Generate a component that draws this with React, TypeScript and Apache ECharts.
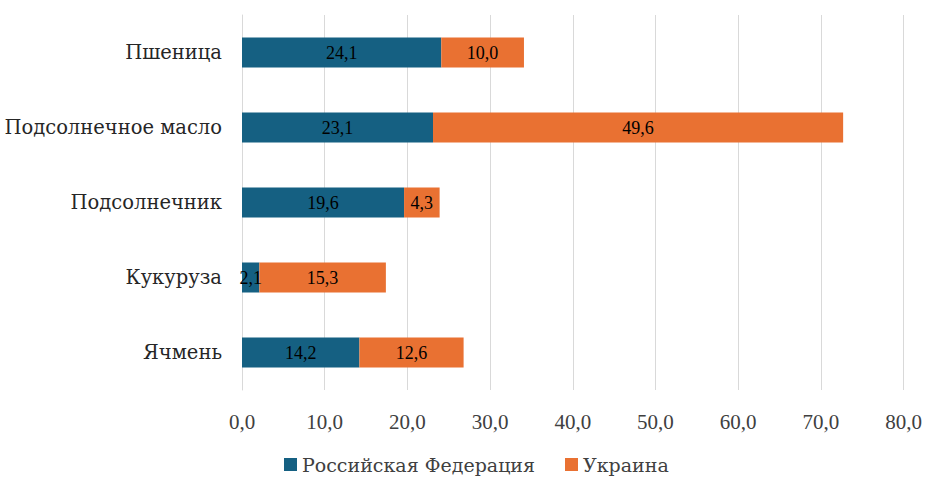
import React, { useEffect, useRef } from "react";
import * as echarts from "echarts";

const categories = ["Пшеница", "Подсолнечное масло", "Подсолнечник", "Кукуруза", "Ячмень"];
const russia = [24.1, 23.1, 19.6, 2.1, 14.2];
const ukraine = [10.0, 49.6, 4.3, 15.3, 12.6];
const seriesNames = ["Российская Федерация", "Украина"];

const FONT = "Times New Roman, Liberation Serif, DejaVu Serif, serif";
const CYR = "DejaVu Serif, serif";
const fmt = (v: number) => v.toFixed(1).replace(".", ",");

export default function App() {
  const ref = useRef<HTMLDivElement>(null);
  useEffect(() => {
    if (!ref.current) return;
    const chart = echarts.init(ref.current, undefined, { renderer: "svg" });
    chart.setOption({
      animation: false,
      backgroundColor: "#ffffff",
      textStyle: { fontFamily: FONT },
      grid: { left: 242, right: 23.5, top: 15, bottom: 87, containLabel: false },
      legend: {
        left: 279,
        top: 449,
        itemWidth: 13,
        itemHeight: 13,
        itemGap: 30,
        icon: "rect",
        textStyle: { fontFamily: CYR, fontSize: 19, lineHeight: 21, color: "#404040" },
        data: seriesNames,
      },
      xAxis: {
        type: "value",
        min: 0,
        max: 80,
        interval: 10,
        axisLine: { show: false },
        axisTick: { show: false },
        splitLine: { lineStyle: { color: "#d9d9d9", width: 1 } },
        axisLabel: {
          margin: 21,
          fontFamily: FONT,
          fontSize: 21,
          color: "#404040",
          formatter: (v: number) => fmt(v),
        },
      },
      yAxis: {
        type: "category",
        inverse: true,
        data: categories,
        axisLine: { show: true, lineStyle: { color: "#d9d9d9" } },
        axisTick: { show: false },
        axisLabel: { margin: 20, fontFamily: CYR, fontSize: 19.5, color: "#262626" },
      },
      series: [
        {
          name: seriesNames[0],
          type: "bar",
          stack: "total",
          data: russia,
          barWidth: 30,
          itemStyle: { color: "#156082" },
          label: {
            show: true,
            position: "inside",
            fontFamily: FONT,
            fontSize: 18,
            color: "#000000",
            formatter: (p: any) => fmt(p.value),
          },
        },
        {
          name: seriesNames[1],
          type: "bar",
          stack: "total",
          data: ukraine,
          barWidth: 30,
          itemStyle: { color: "#E97132" },
          label: {
            show: true,
            position: "inside",
            fontFamily: FONT,
            fontSize: 18,
            color: "#000000",
            formatter: (p: any) => fmt(p.value),
          },
        },
      ],
    });
    return () => chart.dispose();
  }, []);
  return (
    <div
      ref={ref}
      style={{ position: "absolute", left: 0, top: 0, width: 927, height: 477, background: "#fff" }}
    />
  );
}
